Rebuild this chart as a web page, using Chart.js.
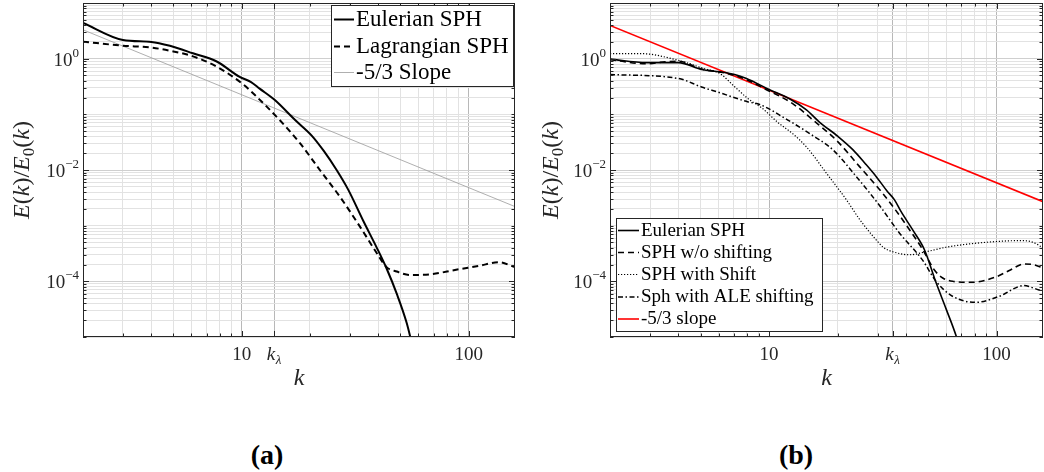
<!DOCTYPE html>
<html><head><meta charset="utf-8">
<script src="https://cdn.jsdelivr.net/npm/chart.js@4.4.1/dist/chart.umd.min.js"></script>
<style>
html,body{margin:0;padding:0;background:#fff;width:1044px;height:472px;overflow:hidden;}
#wrapA{position:absolute;left:0;top:0;width:520px;height:400px;}
#wrapB{position:absolute;left:520px;top:0;width:524px;height:400px;}
canvas{display:block;}
.cap{position:absolute;top:439px;line-height:32px;font:bold 28px "Liberation Serif",serif;color:#000;transform:translateX(-50%);}
</style></head><body>
<div id="wrapA"><canvas id="cA" width="520" height="400" style="width:520px;height:400px"></canvas></div>
<div id="wrapB"><canvas id="cB" width="524" height="400" style="width:524px;height:400px"></canvas></div>
<div class="cap" style="left:267px">(a)</div>
<div class="cap" style="left:796px">(b)</div>
<script>
// ---------- data: panel (a) ----------
const aEulerianK = [2, 3, 4, 4.83, 6.1, 7.76, 9.8, 11, 12, 14, 17.2, 20.3, 23, 26.2, 29.5, 34.4, 39.4, 43.5, 48.2, 53.3, 57, 60];
const aEulerianE = [4.4, 2.17, 2.0, 1.70, 1.25, 0.89, 0.47, 0.38, 0.29, 0.181, 0.079, 0.042, 0.022, 0.010, 0.0044, 0.0012, 0.0004, 0.00017, 0.00006, 0.000018, 0.000006, 0.0000025];
const aLagrangianK = [2, 3, 4, 5, 6.1, 7.76, 10.2, 11.6, 14.7, 18.1, 22.1, 27.1, 33.2, 39.4, 43.5, 48.2, 55, 69, 87, 111, 136, 160];
const aLagrangianE = [2.02, 1.71, 1.58, 1.35, 1.10, 0.72, 0.34, 0.21, 0.079, 0.030, 0.010, 0.0033, 0.00096, 0.00032, 0.00018, 0.00015, 0.00013, 0.000135, 0.00016, 0.00019, 0.00022, 0.00018];
const aSlopeK = [2, 160];
const aSlopeE = [3.3, 0.0022];
const aLabels = ['Eulerian SPH', 'Lagrangian SPH', '-5/3 Slope'];
const aKLambda = 13.9;

// ---------- data: panel (b) ----------
const bEulerianK = [2, 2.9, 4, 5.05, 6.08, 7.06, 7.96, 10, 12.3, 14.6, 16.7, 20.1, 23.4, 26.5, 29.6, 33, 35.6, 38, 42.8, 48.2, 54.2, 60, 66.4, 70];
const bEulerianE = [0.98, 0.85, 0.85, 0.64, 0.58, 0.52, 0.44, 0.28, 0.19, 0.12, 0.072, 0.040, 0.023, 0.013, 0.0076, 0.0042, 0.0029, 0.0018, 0.00084, 0.00037, 0.000095, 0.000032, 0.0000105, 0.000005];
const bNoShiftK = [2, 2.9, 3.5, 4, 5.05, 6.08, 7.06, 7.96, 9.7, 12.7, 15.6, 19.8, 25, 31.6, 36, 41, 47.4, 53.3, 58, 64.1, 78.5, 99.3, 115, 132, 145, 160];
const bNoShiftE = [0.96, 0.81, 0.88, 0.90, 0.65, 0.575, 0.50, 0.42, 0.28, 0.156, 0.079, 0.034, 0.0115, 0.0038, 0.0019, 0.0009, 0.00037, 0.00016, 0.000115, 0.0001, 0.000096, 0.00012, 0.00016, 0.000205, 0.0002, 0.000174];
const bShiftK = [2, 2.75, 4, 5.2, 6.08, 7.08, 8.1, 9.3, 11, 12.7, 14.6, 17.9, 21.9, 25, 29.1, 32, 35, 41.4, 49, 60, 84, 130, 145, 160];
const bShiftE = [1.23, 1.23, 0.93, 0.66, 0.54, 0.31, 0.19, 0.13, 0.07, 0.045, 0.026, 0.0087, 0.0029, 0.0013, 0.0006, 0.0004, 0.00034, 0.0003, 0.00034, 0.00041, 0.00049, 0.00054, 0.0005, 0.0004];
const bALEK = [2, 4, 5.05, 5.97, 8.1, 9.1, 12.1, 15.1, 19.1, 24.2, 30.6, 37.4, 47.3, 54.2, 64, 81, 103, 132, 145, 160];
const bALEE = [0.52, 0.44, 0.31, 0.25, 0.167, 0.15, 0.079, 0.045, 0.023, 0.0076, 0.0023, 0.00074, 0.00024, 0.0001, 0.000054, 0.000042, 0.000054, 0.000084, 0.000076, 0.000066];
const bSlopeK = [2, 160];
const bSlopeE = [3.95, 0.0027];
const bLabels = ['Eulerian SPH', 'SPH w/o shifting', 'SPH with Shift', 'Sph with ALE shifting', '-5/3 slope'];
const bKLambda = 34.9;

// ---------- axes ----------
const xMin = 2, xMax = 160, yMin = 1e-5, yMax = 10;
const yTickValues = [1e-4, 1e-2, 1];
const yTickExponents = ['\u22124', '\u22122', '0'];
const xTickNumbers = [10, 100];
const xTickNumberLabels = ['10', '100'];

const SERIF = '"Liberation Serif","Times New Roman",serif';
const pts = (ks, es) => ks.map((k, i) => ({ x: k, y: es[i] }));

function gridValues(e0, e1, lo, hi) {
  const out = [];
  for (let e = e0; e <= e1; e++) for (let m = 1; m <= 9; m++) {
    const v = +(m * Math.pow(10, e)).toPrecision(6);
    if (v >= lo * 0.9999 && v <= hi * 1.0001) out.push(v);
  }
  return out;
}
const near = (a, b) => Math.abs(a - b) / b < 1e-6;

function drawParts(ctx, parts, x, baseY, align) {
  let total = 0;
  parts.forEach(p => { ctx.font = p.font; p.w = ctx.measureText(p.t).width; total += p.w + (p.gap || 0); });
  let cx = align === 'right' ? x - total : (align === 'center' ? x - total / 2 : x);
  ctx.textAlign = 'left'; ctx.textBaseline = 'alphabetic';
  parts.forEach(p => { ctx.font = p.font; ctx.fillText(p.t, cx, baseY + (p.dy || 0)); cx += p.w + (p.gap || 0); });
}

const decorPlugin = {
  id: 'decor',
  afterDraw(chart) {
    const o = chart.options.plugins.decor;
    const { ctx, chartArea: a } = chart;
    const x = chart.scales.x, y = chart.scales.y;
    ctx.save();
    // inward tick marks
    ctx.strokeStyle = '#262626'; ctx.lineWidth = 1;
    ctx.beginPath();
    o.xGrid.forEach(v => {
      const px = Math.round(x.getPixelForValue(v)) + 0.5;
      const L = o.xMajor.some(t => near(v, t)) ? 6 : 3.5;
      ctx.moveTo(px, a.bottom); ctx.lineTo(px, a.bottom - L);
      ctx.moveTo(px, a.top); ctx.lineTo(px, a.top + L);
    });
    o.yGrid.forEach(v => {
      const py = Math.round(y.getPixelForValue(v)) + 0.5;
      const L = yTickValues.some(t => near(v, t)) ? 6 : 3.5;
      ctx.moveTo(a.left, py); ctx.lineTo(a.left + L, py);
      ctx.moveTo(a.right, py); ctx.lineTo(a.right - L, py);
    });
    ctx.stroke();
    ctx.strokeRect(a.left + 0.5, a.top + 0.5, a.right - a.left - 1, a.bottom - a.top - 1);

    ctx.fillStyle = '#262626';
    // y tick labels
    yTickValues.forEach((v, i) => {
      const py = y.getPixelForValue(v);
      drawParts(ctx, [
        { t: '10', font: '19px ' + SERIF },
        { t: yTickExponents[i], font: '13px ' + SERIF, dy: -9 }
      ], a.left - 4, py + 7, 'right');
    });
    // x tick labels
    xTickNumbers.forEach((v, i) => {
      const px = x.getPixelForValue(v);
      drawParts(ctx, [{ t: xTickNumberLabels[i], font: '19px ' + SERIF }], px, 360, 'center');
    });
    const pk = x.getPixelForValue(o.kLambda);
    drawParts(ctx, [
      { t: 'k', font: 'italic 19px ' + SERIF, gap: 0.5 },
      { t: '\u03bb', font: 'italic 13px ' + SERIF, dy: 4 }
    ], pk, 360, 'center');
    // axis titles
    ctx.fillStyle = '#262626';
    drawParts(ctx, [{ t: 'k', font: 'italic 24px ' + SERIF }], (a.left + a.right) / 2, 385, 'center');
    ctx.save();
    ctx.translate(o.yTitleX, (a.top + a.bottom) / 2);
    ctx.rotate(-Math.PI / 2);
    const it = 'italic 24px ' + SERIF, up = '24px ' + SERIF;
    drawParts(ctx, [
      { t: 'E', font: it }, { t: '(', font: up }, { t: 'k', font: it }, { t: ')', font: up },
      { t: '/', font: up }, { t: 'E', font: it }, { t: '0', font: '17px ' + SERIF, dy: 5 },
      { t: '(', font: up }, { t: 'k', font: it }, { t: ')', font: up }
    ], 0, 7, 'center');
    ctx.restore();

    // legend
    const L = o.legend;
    ctx.fillStyle = '#fff';
    ctx.fillRect(L.box[0], L.box[1], L.box[2] - L.box[0], L.box[3] - L.box[1]);
    ctx.strokeStyle = '#262626'; ctx.lineWidth = 1;
    ctx.strokeRect(L.box[0] + 0.5, L.box[1] + 0.5, L.box[2] - L.box[0] - 1, L.box[3] - L.box[1] - 1);
    chart.data.datasets.forEach((ds, i) => {
      const ry = L.rows[i];
      ctx.save();
      ctx.strokeStyle = ds.borderColor; ctx.lineWidth = ds.legendWidth || ds.borderWidth;
      ctx.setLineDash(ds.borderDash || []);
      ctx.beginPath(); ctx.moveTo(L.sample[0], ry + 0.5); ctx.lineTo(L.sample[1], ry + 0.5); ctx.stroke();
      ctx.restore();
      ctx.fillStyle = '#000';
      ctx.font = L.font; ctx.textAlign = 'left'; ctx.textBaseline = 'middle';
      ctx.fillText(ds.label, L.textX, ry + 1);
    });
    ctx.restore();
  }
};

function makePanel(id, cfg) {
  const xMajor = xTickNumbers.concat([cfg.kLambda]);
  const xGrid = Array.from(new Set(gridValues(0, 2, xMin, xMax).concat([cfg.kLambda]))).sort((p, q) => p - q);
  const yGrid = gridValues(-5, 1, yMin, yMax);
  return new Chart(document.getElementById(id), {
    type: 'line',
    data: { datasets: cfg.datasets },
    options: {
      responsive: false, animation: false, events: [],
      layout: { padding: cfg.padding },
      elements: { point: { radius: 0 }, line: { fill: false } },
      scales: {
        x: {
          type: 'logarithmic', min: xMin, max: xMax,
          afterBuildTicks: s => { s.ticks = xGrid.map(v => ({ value: v })); },
          afterFit: s => { s.height = 63; },
          ticks: { display: false },
          border: { display: false },
          grid: { drawTicks: false, lineWidth: 1,
            color: c => (c.tick && xMajor.some(t => near(c.tick.value, t))) ? '#b8b8b8' : '#e2e2e2' }
        },
        y: {
          type: 'logarithmic', min: yMin, max: yMax,
          afterBuildTicks: s => { s.ticks = yGrid.map(v => ({ value: v })); },
          afterFit: s => { s.width = 0; },
          ticks: { display: false },
          border: { display: false },
          grid: { drawTicks: false, lineWidth: 1,
            color: c => (c.tick && yTickValues.some(t => near(c.tick.value, t))) ? '#cfcfcf' : '#e2e2e2' }
        }
      },
      plugins: {
        legend: { display: false }, tooltip: { enabled: false },
        decor: { xGrid, yGrid, xMajor, kLambda: cfg.kLambda, yTitleX: cfg.yTitleX, legend: cfg.legend }
      }
    },
    plugins: [decorPlugin]
  });
}

makePanel('cA', {
  kLambda: aKLambda, yTitleX: 22,
  padding: { left: 83, right: 5, top: 3, bottom: 0 },
  legend: { box: [331, 5, 514, 87], rows: [19, 46, 72], sample: [334, 354], textX: 356, font: '23px ' + SERIF },
  datasets: [
    { label: aLabels[0], data: pts(aEulerianK, aEulerianE), borderColor: '#000', borderWidth: 2, cubicInterpolationMode: 'monotone' },
    { label: aLabels[1], data: pts(aLagrangianK, aLagrangianE), borderColor: '#000', borderWidth: 2, borderDash: [6, 4], cubicInterpolationMode: 'monotone' },
    { label: aLabels[2], data: pts(aSlopeK, aSlopeE), borderColor: '#9a9a9a', borderWidth: 0.8, legendWidth: 0.8 }
  ]
});

makePanel('cB', {
  kLambda: bKLambda, yTitleX: 31,
  padding: { left: 90, right: 1, top: 3, bottom: 0 },
  legend: { box: [96, 218, 303, 332], rows: [230, 252, 274, 296.5, 318.5], sample: [98, 119], textX: 121, font: '19px ' + SERIF },
  datasets: [
    { label: bLabels[0], data: pts(bEulerianK, bEulerianE), borderColor: '#000', borderWidth: 1.6, cubicInterpolationMode: 'monotone' },
    { label: bLabels[1], data: pts(bNoShiftK, bNoShiftE), borderColor: '#000', borderWidth: 1.6, borderDash: [6, 4], cubicInterpolationMode: 'monotone' },
    { label: bLabels[2], data: pts(bShiftK, bShiftE), borderColor: '#000', borderWidth: 1.2, borderDash: [1.2, 1.8], cubicInterpolationMode: 'monotone' },
    { label: bLabels[3], data: pts(bALEK, bALEE), borderColor: '#000', borderWidth: 1.5, borderDash: [5, 2.5, 1.5, 2.5], cubicInterpolationMode: 'monotone' },
    { label: bLabels[4], data: pts(bSlopeK, bSlopeE), borderColor: '#ff0000', borderWidth: 1.6 }
  ]
});
</script>
</body></html>
